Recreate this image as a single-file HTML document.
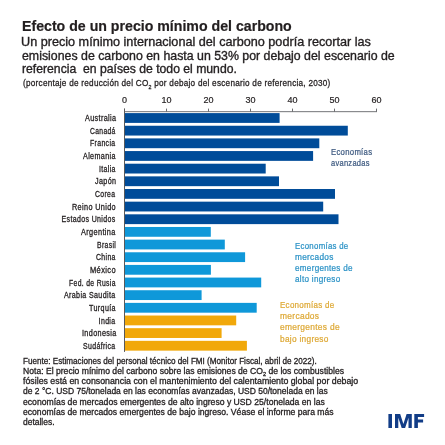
<!DOCTYPE html>
<html><head><meta charset="utf-8"><style>
html,body{margin:0;padding:0;background:#fff;}
body{width:445px;height:445px;position:relative;overflow:hidden;font-family:"Liberation Sans",sans-serif;}
#wrap{position:absolute;left:0;top:0;width:445px;height:445px;filter:blur(0.4px);}
.t{position:absolute;white-space:nowrap;}
sub{font-size:65%;vertical-align:0;position:relative;top:0.3em;line-height:0;}
.b{position:absolute;left:124.00px;height:9.8px;}
.tk{position:absolute;top:108.6px;width:1px;height:3px;background:#6d6e71;}
.ax{position:absolute;left:124.00px;top:111.0px;width:253.00px;height:1.3px;background:#8a8b8e;}
.vax{position:absolute;left:124.00px;top:108.6px;width:1px;height:243.3px;background:#58595b;}
</style></head><body><div id="wrap">
<svg id="chart" style="position:absolute;left:0;top:0" width="445" height="445" viewBox="0 0 445 445"><rect x="124.00" y="113.10" width="155.60" height="9.8" fill="#004c99"/><rect x="124.00" y="125.75" width="223.80" height="9.8" fill="#004c99"/><rect x="124.00" y="138.40" width="195.30" height="9.8" fill="#004c99"/><rect x="124.00" y="151.06" width="189.10" height="9.8" fill="#004c99"/><rect x="124.00" y="163.71" width="141.70" height="9.8" fill="#004c99"/><rect x="124.00" y="176.36" width="155.00" height="9.8" fill="#004c99"/><rect x="124.00" y="189.01" width="211.00" height="9.8" fill="#004c99"/><rect x="124.00" y="201.66" width="199.20" height="9.8" fill="#004c99"/><rect x="124.00" y="214.32" width="214.50" height="9.8" fill="#004c99"/><rect x="124.00" y="226.97" width="86.80" height="9.8" fill="#0f98d9"/><rect x="124.00" y="239.62" width="100.80" height="9.8" fill="#0f98d9"/><rect x="124.00" y="252.27" width="121.10" height="9.8" fill="#0f98d9"/><rect x="124.00" y="264.92" width="86.90" height="9.8" fill="#0f98d9"/><rect x="124.00" y="277.58" width="137.20" height="9.8" fill="#0f98d9"/><rect x="124.00" y="290.23" width="77.60" height="9.8" fill="#0f98d9"/><rect x="124.00" y="302.88" width="132.70" height="9.8" fill="#0f98d9"/><rect x="124.00" y="315.53" width="112.20" height="9.8" fill="#f1a80a"/><rect x="124.00" y="328.18" width="97.60" height="9.8" fill="#f1a80a"/><rect x="124.00" y="340.84" width="122.90" height="9.8" fill="#f1a80a"/>
<rect x="124.00" y="111.0" width="253.00" height="1.2" fill="#8a8b8e"/><rect x="124.00" y="108.6" width="1" height="3.2" fill="#6d6e71"/><rect x="166.00" y="108.6" width="1" height="3.2" fill="#6d6e71"/><rect x="208.00" y="108.6" width="1" height="3.2" fill="#6d6e71"/><rect x="250.00" y="108.6" width="1" height="3.2" fill="#6d6e71"/><rect x="292.00" y="108.6" width="1" height="3.2" fill="#6d6e71"/><rect x="334.00" y="108.6" width="1" height="3.2" fill="#6d6e71"/><rect x="376.00" y="108.6" width="1" height="3.2" fill="#6d6e71"/><rect x="124.00" y="108.6" width="1" height="243.3" fill="#58595b"/></svg>
<div class="t" style="left:22.09px;transform-origin:0 0;transform:scale(1.0109,1.0000);top:19.15px;font-size:14.0px;line-height:14.0px;color:#231f20;font-weight:700;-webkit-text-stroke:0.2px currentColor;letter-spacing:0px">Efecto de un precio mínimo del carbono</div>
<div class="t" style="left:21.38px;transform-origin:0 0;transform:scale(1.0202,1.0000);top:36.10px;font-size:12.4px;line-height:12.4px;color:#231f20;font-weight:400;-webkit-text-stroke:0.35px currentColor;letter-spacing:0px">Un precio mínimo internacional del carbono podría recortar las</div>
<div class="t" style="left:22.40px;transform-origin:0 0;transform:scale(0.9965,1.0000);top:49.70px;font-size:12.4px;line-height:12.4px;color:#231f20;font-weight:400;-webkit-text-stroke:0.35px currentColor;letter-spacing:0px">emisiones de carbono en hasta un 53% por debajo del escenario de</div>
<div class="t" style="left:22.40px;transform-origin:0 0;transform:scale(0.9839,1.0000);top:63.20px;font-size:12.4px;line-height:12.4px;color:#231f20;font-weight:400;-webkit-text-stroke:0.35px currentColor;letter-spacing:0px">referencia &nbsp;en países de todo el mundo.</div>
<div class="t" style="left:22.60px;transform-origin:0 0;transform:scale(1.0099,1.0800);top:80.19px;font-size:8.1px;line-height:8.1px;color:#231f20;font-weight:400;-webkit-text-stroke:0.25px currentColor;letter-spacing:0.25px">(porcentaje de reducción del CO<sub>2</sub> por debajo del escenario de referencia, 2030)</div>
<div class="t" style="left:124.50px;transform:translateX(-50%);top:96.28px;font-size:9.0px;line-height:9.0px;color:#231f20;font-weight:400;-webkit-text-stroke:0.2px currentColor;letter-spacing:0px">0</div>
<div class="t" style="left:166.50px;transform:translateX(-50%);top:96.28px;font-size:9.0px;line-height:9.0px;color:#231f20;font-weight:400;-webkit-text-stroke:0.2px currentColor;letter-spacing:0px">10</div>
<div class="t" style="left:208.50px;transform:translateX(-50%);top:96.28px;font-size:9.0px;line-height:9.0px;color:#231f20;font-weight:400;-webkit-text-stroke:0.2px currentColor;letter-spacing:0px">20</div>
<div class="t" style="left:250.50px;transform:translateX(-50%);top:96.28px;font-size:9.0px;line-height:9.0px;color:#231f20;font-weight:400;-webkit-text-stroke:0.2px currentColor;letter-spacing:0px">30</div>
<div class="t" style="left:292.50px;transform:translateX(-50%);top:96.28px;font-size:9.0px;line-height:9.0px;color:#231f20;font-weight:400;-webkit-text-stroke:0.2px currentColor;letter-spacing:0px">40</div>
<div class="t" style="left:334.50px;transform:translateX(-50%);top:96.28px;font-size:9.0px;line-height:9.0px;color:#231f20;font-weight:400;-webkit-text-stroke:0.2px currentColor;letter-spacing:0px">50</div>
<div class="t" style="left:376.50px;transform:translateX(-50%);top:96.28px;font-size:9.0px;line-height:9.0px;color:#231f20;font-weight:400;-webkit-text-stroke:0.2px currentColor;letter-spacing:0px">60</div>
<div class="t" style="left:84.60px;transform-origin:0 0;transform:scale(1.0333,1.2000);top:114.09px;font-size:7.0px;line-height:7.0px;color:#231f20;font-weight:400;-webkit-text-stroke:0.25px currentColor;letter-spacing:0.35px">Australia</div>
<div class="t" style="left:89.60px;transform-origin:0 0;transform:scale(0.9630,1.2000);top:126.74px;font-size:7.0px;line-height:7.0px;color:#231f20;font-weight:400;-webkit-text-stroke:0.25px currentColor;letter-spacing:0.35px">Canadá</div>
<div class="t" style="left:89.90px;transform-origin:0 0;transform:scale(0.9885,1.2000);top:139.39px;font-size:7.0px;line-height:7.0px;color:#231f20;font-weight:400;-webkit-text-stroke:0.25px currentColor;letter-spacing:0.35px">Francia</div>
<div class="t" style="left:82.80px;transform-origin:0 0;transform:scale(1.0250,1.2000);top:152.05px;font-size:7.0px;line-height:7.0px;color:#231f20;font-weight:400;-webkit-text-stroke:0.25px currentColor;letter-spacing:0.35px">Alemania</div>
<div class="t" style="left:98.70px;transform-origin:0 0;transform:scale(0.9941,1.2000);top:164.70px;font-size:7.0px;line-height:7.0px;color:#231f20;font-weight:400;-webkit-text-stroke:0.25px currentColor;letter-spacing:0.35px">Italia</div>
<div class="t" style="left:95.10px;transform-origin:0 0;transform:scale(1.0250,1.2000);top:177.35px;font-size:7.0px;line-height:7.0px;color:#231f20;font-weight:400;-webkit-text-stroke:0.25px currentColor;letter-spacing:0.35px">Japón</div>
<div class="t" style="left:95.10px;transform-origin:0 0;transform:scale(0.9762,1.2000);top:190.00px;font-size:7.0px;line-height:7.0px;color:#231f20;font-weight:400;-webkit-text-stroke:0.25px currentColor;letter-spacing:0.35px">Corea</div>
<div class="t" style="left:72.00px;transform-origin:0 0;transform:scale(1.0381,1.2000);top:202.65px;font-size:7.0px;line-height:7.0px;color:#231f20;font-weight:400;-webkit-text-stroke:0.25px currentColor;letter-spacing:0.35px">Reino Unido</div>
<div class="t" style="left:61.60px;transform-origin:0 0;transform:scale(1.0000,1.2000);top:215.31px;font-size:7.0px;line-height:7.0px;color:#231f20;font-weight:400;-webkit-text-stroke:0.25px currentColor;letter-spacing:0.35px">Estados Unidos</div>
<div class="t" style="left:81.00px;transform-origin:0 0;transform:scale(1.0485,1.2000);top:227.96px;font-size:7.0px;line-height:7.0px;color:#231f20;font-weight:400;-webkit-text-stroke:0.25px currentColor;letter-spacing:0.35px">Argentina</div>
<div class="t" style="left:97.10px;transform-origin:0 0;transform:scale(0.9737,1.2000);top:240.61px;font-size:7.0px;line-height:7.0px;color:#231f20;font-weight:400;-webkit-text-stroke:0.25px currentColor;letter-spacing:0.35px">Brasil</div>
<div class="t" style="left:95.90px;transform-origin:0 0;transform:scale(0.9850,1.2000);top:253.26px;font-size:7.0px;line-height:7.0px;color:#231f20;font-weight:400;-webkit-text-stroke:0.25px currentColor;letter-spacing:0.35px">China</div>
<div class="t" style="left:89.90px;transform-origin:0 0;transform:scale(1.0708,1.2000);top:265.91px;font-size:7.0px;line-height:7.0px;color:#231f20;font-weight:400;-webkit-text-stroke:0.25px currentColor;letter-spacing:0.35px">México</div>
<div class="t" style="left:68.90px;transform-origin:0 0;transform:scale(0.9729,1.2000);top:278.57px;font-size:7.0px;line-height:7.0px;color:#231f20;font-weight:400;-webkit-text-stroke:0.25px currentColor;letter-spacing:0.35px">Fed. de Rusia</div>
<div class="t" style="left:63.90px;transform-origin:0 0;transform:scale(1.0137,1.2000);top:291.22px;font-size:7.0px;line-height:7.0px;color:#231f20;font-weight:400;-webkit-text-stroke:0.25px currentColor;letter-spacing:0.35px">Arabia Saudita</div>
<div class="t" style="left:89.00px;transform-origin:0 0;transform:scale(1.0231,1.2000);top:303.87px;font-size:7.0px;line-height:7.0px;color:#231f20;font-weight:400;-webkit-text-stroke:0.25px currentColor;letter-spacing:0.35px">Turquía</div>
<div class="t" style="left:98.60px;transform-origin:0 0;transform:scale(1.0000,1.2000);top:316.52px;font-size:7.0px;line-height:7.0px;color:#231f20;font-weight:400;-webkit-text-stroke:0.25px currentColor;letter-spacing:0.35px">India</div>
<div class="t" style="left:81.50px;transform-origin:0 0;transform:scale(1.0333,1.2000);top:329.17px;font-size:7.0px;line-height:7.0px;color:#231f20;font-weight:400;-webkit-text-stroke:0.25px currentColor;letter-spacing:0.35px">Indonesia</div>
<div class="t" style="left:82.80px;transform-origin:0 0;transform:scale(0.9939,1.2000);top:341.83px;font-size:7.0px;line-height:7.0px;color:#231f20;font-weight:400;-webkit-text-stroke:0.25px currentColor;letter-spacing:0.35px">Sudáfrica</div>
<div class="t" style="left:330.60px;transform-origin:0 0;transform:scale(0.9341,1.1200);top:147.23px;font-size:8.3px;line-height:8.3px;color:#3e5a80;font-weight:400;-webkit-text-stroke:0.22px currentColor;letter-spacing:0.3px">Economías</div>
<div class="t" style="left:330.60px;transform-origin:0 0;transform:scale(0.9047,1.1200);top:158.03px;font-size:8.3px;line-height:8.3px;color:#3e5a80;font-weight:400;-webkit-text-stroke:0.22px currentColor;letter-spacing:0.3px">avanzadas</div>
<div class="t" style="left:295.00px;transform-origin:0 0;transform:scale(0.9446,1.1200);top:240.73px;font-size:8.3px;line-height:8.3px;color:#2b92c6;font-weight:400;-webkit-text-stroke:0.22px currentColor;letter-spacing:0.3px">Economías de</div>
<div class="t" style="left:295.00px;transform-origin:0 0;transform:scale(0.9947,1.1200);top:251.78px;font-size:8.3px;line-height:8.3px;color:#2b92c6;font-weight:400;-webkit-text-stroke:0.22px currentColor;letter-spacing:0.3px">mercados</div>
<div class="t" style="left:295.00px;transform-origin:0 0;transform:scale(0.9763,1.1200);top:262.83px;font-size:8.3px;line-height:8.3px;color:#2b92c6;font-weight:400;-webkit-text-stroke:0.22px currentColor;letter-spacing:0.3px">emergentes de</div>
<div class="t" style="left:295.00px;transform-origin:0 0;transform:scale(0.9783,1.1200);top:273.88px;font-size:8.3px;line-height:8.3px;color:#2b92c6;font-weight:400;-webkit-text-stroke:0.22px currentColor;letter-spacing:0.3px">alto ingreso</div>
<div class="t" style="left:280.04px;transform-origin:0 0;transform:scale(0.9618,1.1200);top:300.23px;font-size:8.3px;line-height:8.3px;color:#dea936;font-weight:400;-webkit-text-stroke:0.22px currentColor;letter-spacing:0.3px">Economías de</div>
<div class="t" style="left:279.99px;transform-origin:0 0;transform:scale(1.0135,1.1200);top:311.33px;font-size:8.3px;line-height:8.3px;color:#dea936;font-weight:400;-webkit-text-stroke:0.22px currentColor;letter-spacing:0.3px">mercados</div>
<div class="t" style="left:279.99px;transform-origin:0 0;transform:scale(1.0105,1.1200);top:322.43px;font-size:8.3px;line-height:8.3px;color:#dea936;font-weight:400;-webkit-text-stroke:0.22px currentColor;letter-spacing:0.3px">emergentes de</div>
<div class="t" style="left:280.00px;transform-origin:0 0;transform:scale(0.9979,1.1200);top:333.53px;font-size:8.3px;line-height:8.3px;color:#dea936;font-weight:400;-webkit-text-stroke:0.22px currentColor;letter-spacing:0.3px">bajo ingreso</div>
<div class="t" style="left:22.60px;transform-origin:0 0;transform:scale(0.9447,1.0000);top:357.12px;font-size:8.6px;line-height:8.6px;color:#231f20;font-weight:400;-webkit-text-stroke:0.3px currentColor;letter-spacing:0px">Fuente: Estimaciones del personal técnico del FMI (Monitor Fiscal, abril de 2022).</div>
<div class="t" style="left:22.60px;transform-origin:0 0;transform:scale(1.0006,1.0000);top:367.22px;font-size:8.6px;line-height:8.6px;color:#231f20;font-weight:400;-webkit-text-stroke:0.3px currentColor;letter-spacing:0px">Nota: El precio mínimo del carbono sobre las emisiones de CO<sub>2</sub> de los combustibles</div>
<div class="t" style="left:22.60px;transform-origin:0 0;transform:scale(1.0226,1.0000);top:377.32px;font-size:8.6px;line-height:8.6px;color:#231f20;font-weight:400;-webkit-text-stroke:0.3px currentColor;letter-spacing:0px">fósiles está en consonancia con el mantenimiento del calentamiento global por debajo</div>
<div class="t" style="left:22.60px;transform-origin:0 0;transform:scale(0.9883,1.0000);top:387.42px;font-size:8.6px;line-height:8.6px;color:#231f20;font-weight:400;-webkit-text-stroke:0.3px currentColor;letter-spacing:0px">de 2 °C. USD 75/tonelada en las economías avanzadas, USD 50/tonelada en las</div>
<div class="t" style="left:22.60px;transform-origin:0 0;transform:scale(1.0043,1.0000);top:397.52px;font-size:8.6px;line-height:8.6px;color:#231f20;font-weight:400;-webkit-text-stroke:0.3px currentColor;letter-spacing:0px">economías de mercados emergentes de alto ingreso y USD 25/tonelada en las</div>
<div class="t" style="left:22.60px;transform-origin:0 0;transform:scale(1.0003,1.0000);top:407.62px;font-size:8.6px;line-height:8.6px;color:#231f20;font-weight:400;-webkit-text-stroke:0.3px currentColor;letter-spacing:0px">economías de mercados emergentes de bajo ingreso. Véase el informe para más</div>
<div class="t" style="left:22.60px;transform-origin:0 0;transform:scale(0.9844,1.0000);top:417.72px;font-size:8.6px;line-height:8.6px;color:#231f20;font-weight:400;-webkit-text-stroke:0.3px currentColor;letter-spacing:0px">detalles.</div>
<svg id="imf" style="position:absolute;left:0;top:0" width="445" height="445" viewBox="0 0 445 445"><g fill="#123d87"><rect x="388.4" y="414" width="3.6" height="14"/><polygon points="395,428 395,414 400.2,414 403.4,424 406.6,414 411.8,414 411.8,428 408.5,428 408.5,417.8 405.1,428 401.7,428 398.3,417.8 398.3,428"/><polygon points="414.3,428 414.3,414 424.1,414 424.1,416.9 417.9,416.9 417.9,419.6 423.1,419.6 423.1,422.4 417.9,422.4 417.9,428"/></g></svg>
</div></body></html>
